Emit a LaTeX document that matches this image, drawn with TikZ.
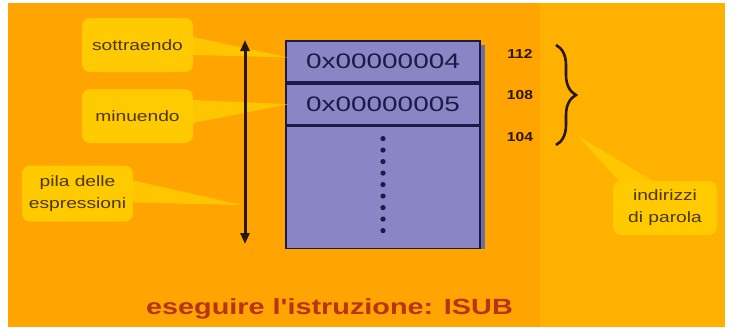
\documentclass[tikz,border=0pt]{standalone}
\usepackage{graphicx}
\usepackage{fontspec}
\setmainfont{Liberation Sans}
\usetikzlibrary{arrows.meta,calc,decorations.pathreplacing}

\definecolor{bgleft}{RGB}{255,164,0}
\definecolor{bgright}{RGB}{255,177,0}
\definecolor{calloutfill}{RGB}{255,203,0}
\definecolor{callouttext}{RGB}{74,56,6}
\definecolor{cellfill}{RGB}{136,134,196}
\definecolor{cellline}{RGB}{28,26,70}
\definecolor{cellshadow}{RGB}{112,108,160}
\definecolor{inktext}{RGB}{40,22,6}
\definecolor{titlered}{RGB}{184,52,22}

% horizontally widened text
\newcommand\wide[2][1.28]{\scalebox{#1}[1]{#2}}

\begin{document}
\begin{tikzpicture}[x=1pt,y=-1pt,
  callout/.style={fill=calloutfill, rounded corners=8pt, text=callouttext,
    font=\fontsize{15}{22}\selectfont, align=center, inner sep=0pt},
  wedge/.style={fill=calloutfill, opacity=0.85},
  cell/.style={draw=cellline, line width=1.8pt, fill=cellfill,
    minimum width=194pt, anchor=north, inner sep=0pt, text=cellline,
    font=\fontsize{21}{24}\selectfont},
  addr/.style={text=inktext, font=\fontsize{13}{15}\selectfont\bfseries},
  stackarrow/.style={{Triangle[width=9pt,length=11pt]}-{Triangle[width=9pt,length=11pt]},
    line width=3pt, draw=inktext},
  dot/.style={fill=cellline}
]
% canvas: white frame and the two orange panels
\useasboundingbox (0,0) rectangle (731,327);
\fill[white] (0,0) rectangle (731,327);
\fill[bgleft] (8,3) rectangle (540,327);
\fill[bgright] (540,3) rectangle (725,327);

% callout boxes
\node[callout, minimum width=111pt, minimum height=54pt] (sot) at (137.5,45) {\wide{sottraendo}};
\node[callout, minimum width=111pt, minimum height=54pt] (min) at (137.5,116) {\wide{minuendo}};
\node[callout, minimum width=111pt, minimum height=56pt] (pila) at (77.5,193.5)
  {\wide{pila delle}\\\wide{espressioni}};
\node[callout, minimum width=104pt, minimum height=54pt] (ind) at (665,208)
  {\wide{indirizzi}\\\wide{di parola}};

% free ends of the callout pointers
\coordinate (pilatip) at (242,205);
\coordinate (indtip) at (578,136);

% stack of words: shadow first, then cells
\fill[cellshadow] (291,45) rectangle (485,249);
\coordinate (stacktop) at (383,40);
\node[cell, minimum height=41pt] (row1) at (stacktop) {\wide[1.33]{0x00000004}};
\node[cell, minimum height=41pt] (row2) at (row1.south) {\wide[1.33]{0x00000005}};
\node[cell, minimum height=122pt] (row3) at (row2.south) {};

% callout pointers
\fill[wedge] ($(sot.east)+(0,-8)$) -- ($(row1.west)+(3,-4)$) -- ($(sot.east)+(0,10)$) -- cycle;
\fill[wedge] ($(min.east)+(0,-16)$) -- ($(row2.west)+(3,0)$) -- ($(min.east)+(0,7)$) -- cycle;
\fill[wedge] ($(pila.east)+(0,-13)$) -- (pilatip) -- ($(pila.east)+(0,9)$) -- cycle;
\fill[wedge] (indtip) -- ($(ind.north west)+(6,0)$) -- ($(ind.north west)+(40,0)$) -- cycle;

% continuation dots
\foreach \i in {0,...,8}
  \fill[dot] ($(row3.north)+(0,13+11.5*\i)$) circle (2.6pt);

% stack extent arrow
\coordinate (arrtop) at (245,40);
\coordinate (arrbot) at (245,244);
\draw[stackarrow] (arrtop) -- (arrbot);

% word addresses and brace
\node[addr] (a112) at (520,54) {\wide[1.2]{112}};
\node[addr] (a108) at (520,95) {\wide[1.2]{108}};
\node[addr] (a104) at (520,137) {\wide[1.2]{104}};
\coordinate (bracetop) at (556,45);
\coordinate (bracebot) at (556,145);
\draw[inktext, line width=2.6pt, decorate, decoration={brace, amplitude=20pt}] (bracetop) -- (bracebot);

% title
\node[text=titlered, font=\fontsize{22}{24}\selectfont\bfseries] (title) at (329.5,309)
  {\wide[1.31]{eseguire l\textquotesingle istruzione: ISUB}};
\end{tikzpicture}
\end{document}
